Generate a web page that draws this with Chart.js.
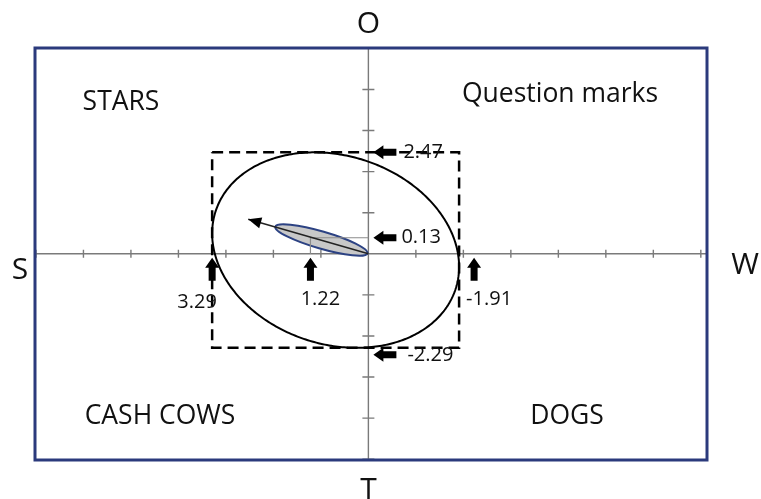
<!DOCTYPE html>
<html><head><meta charset="utf-8">
<script src="https://cdn.jsdelivr.net/npm/chart.js@4.4.1/dist/chart.umd.min.js"></script>
<style>html,body{margin:0;padding:0;background:#fff}#wrap{width:761px;height:499px;position:relative}</style>
</head><body><div id="wrap"><canvas id="c" width="761" height="499"></canvas></div>
<script>
// ---- data ----
const axisLetters = ['O', 'T', 'S', 'W'];            // top, bottom, left, right
const quadrantNames = ['STARS', 'Question marks', 'CASH COWS', 'DOGS'];
const xTicks = [-7, -6, -5, -4, -3, -2, -1, 1, 2, 3, 4, 5, 6, 7];
const yTicks = [-5, -4, -3, -2, -1, 1, 2, 3, 4, 5];
const rectX = [3.29, -1.91];                          // S side (left) / W side (right)
const rectY = [2.47, -2.29];                          // O side (top) / T side (bottom)
const rectLabels = ['3.29', '-1.91', '2.47', '-2.29'];
const meanPoint = [1.22, 0.39];                       // as drawn in the picture
const meanLabels = ['1.22', '0.13'];
const ellipseCorr = 0.17;                             // tilt of the big ellipse
const smallAxis = [[0.02, 0.01], [1.96, 0.66]];       // major axis of the small ellipse
const smallRatio = 0.18;
const vectorLine = [[0, 0], [2.53, 0.84]];

const rectPts = [
  {x: rectX[0], y: rectY[0]}, {x: rectX[1], y: rectY[0]},
  {x: rectX[1], y: rectY[1]}, {x: rectX[0], y: rectY[1]}, {x: rectX[0], y: rectY[0]}
];
const markerPts = [{x: meanPoint[0], y: 0}, {x: meanPoint[0], y: meanPoint[1]}, {x: 0, y: meanPoint[1]}];
const vectorPts = vectorLine.map(p => ({x: p[0], y: p[1]}));

const FONT = '"Open Sans", "Noto Sans", sans-serif';

function blockArrow(ctx, x, y, dir, len, headLen, headHalf, shaftHalf) {
  ctx.save();
  ctx.translate(x, y);
  if (dir === 'up') ctx.rotate(Math.PI / 2);
  ctx.beginPath();
  ctx.moveTo(0, 0);
  ctx.lineTo(headLen, -headHalf);
  ctx.lineTo(headLen, -shaftHalf);
  ctx.lineTo(len, -shaftHalf);
  ctx.lineTo(len, shaftHalf);
  ctx.lineTo(headLen, shaftHalf);
  ctx.lineTo(headLen, headHalf);
  ctx.closePath();
  ctx.fillStyle = '#000';
  ctx.fill();
  ctx.restore();
}

const diagram = {
  id: 'diagram',
  beforeDatasetsDraw(chart) {
    const {ctx, chartArea: a, scales: {x: xs, y: ys}} = chart;
    const x0 = xs.getPixelForValue(0), y0 = ys.getPixelForValue(0);
    ctx.save();
    ctx.strokeStyle = '#7a7a7a';
    ctx.lineWidth = 1.4;
    ctx.beginPath();
    ctx.moveTo(a.left, y0); ctx.lineTo(a.right, y0);
    ctx.moveTo(x0, a.top); ctx.lineTo(x0, a.bottom);
    xTicks.forEach(v => { const p = xs.getPixelForValue(v); ctx.moveTo(p, y0 - 4); ctx.lineTo(p, y0 + 4); });
    yTicks.forEach(v => { const p = ys.getPixelForValue(v); ctx.moveTo(x0 - 6, p); ctx.lineTo(x0 + 6, p); });
    ctx.stroke();
    const p0 = [xs.getPixelForValue(smallAxis[0][0]), ys.getPixelForValue(smallAxis[0][1])];
    const p1 = [xs.getPixelForValue(smallAxis[1][0]), ys.getPixelForValue(smallAxis[1][1])];
    const cx = (p0[0] + p1[0]) / 2, cy = (p0[1] + p1[1]) / 2;
    const ra = Math.hypot(p1[0] - p0[0], p1[1] - p0[1]) / 2;
    const ang = Math.atan2(p1[1] - p0[1], p1[0] - p0[0]);
    ctx.beginPath();
    ctx.ellipse(cx, cy, ra, ra * smallRatio, ang, 0, Math.PI * 2);
    ctx.fillStyle = '#c8c8c8';
    ctx.fill();
    ctx.strokeStyle = '#2c4283';
    ctx.lineWidth = 2;
    ctx.stroke();
    ctx.restore();
  },
  afterDatasetsDraw(chart) {
    const {ctx, chartArea: a, scales: {x: xs, y: ys}} = chart;
    const x0 = xs.getPixelForValue(0), y0 = ys.getPixelForValue(0);
    ctx.save();
    const cxD = (rectX[0] + rectX[1]) / 2, cyD = (rectY[0] + rectY[1]) / 2;
    const hx = Math.abs(rectX[0] - rectX[1]) / 2, hy = Math.abs(rectY[0] - rectY[1]) / 2;
    const d = Math.acos(ellipseCorr);
    ctx.beginPath();
    for (let i = 0; i <= 360; i++) {
      const t = i * Math.PI / 180;
      const X = xs.getPixelForValue(cxD + hx * Math.cos(t));
      const Y = ys.getPixelForValue(cyD + hy * Math.cos(t - d));
      if (i) ctx.lineTo(X, Y); else ctx.moveTo(X, Y);
    }
    ctx.closePath();
    ctx.strokeStyle = '#000';
    ctx.lineWidth = 2;
    ctx.stroke();
    const t0 = [xs.getPixelForValue(vectorLine[0][0]), ys.getPixelForValue(vectorLine[0][1])];
    const t1 = [xs.getPixelForValue(vectorLine[1][0]), ys.getPixelForValue(vectorLine[1][1])];
    const ang = Math.atan2(t1[1] - t0[1], t1[0] - t0[0]);
    ctx.save();
    ctx.translate(t1[0], t1[1]); ctx.rotate(ang);
    ctx.beginPath(); ctx.moveTo(0, 0); ctx.lineTo(-13, -5.5); ctx.lineTo(-13, 5.5); ctx.closePath();
    ctx.fillStyle = '#000'; ctx.fill();
    ctx.restore();
    ctx.strokeStyle = '#2b3a7c';
    ctx.lineWidth = 3;
    ctx.strokeRect(a.left, a.top, a.right - a.left, a.bottom - a.top);
    const ly = [ys.getPixelForValue(rectY[0]), ys.getPixelForValue(meanPoint[1]), ys.getPixelForValue(rectY[1]) + 7];
    ly.forEach(y => blockArrow(ctx, x0 + 5, y, 'left', 23, 10, 7, 3.5));
    const ux = [xs.getPixelForValue(rectX[0]), xs.getPixelForValue(meanPoint[0]), xs.getPixelForValue(rectX[1]) + 15];
    ux.forEach(x => blockArrow(ctx, x, y0 + 4, 'up', 23, 10, 7, 3.5));
    ctx.fillStyle = '#111';
    ctx.font = '20px ' + FONT;
    ctx.textBaseline = 'middle';
    ctx.textAlign = 'left';
    ctx.fillText(rectLabels[2], x0 + 35, ly[0]);
    ctx.fillText(meanLabels[1], x0 + 33, ly[1]);
    ctx.fillText(rectLabels[3], x0 + 39, ly[2]);
    ctx.textAlign = 'center';
    ctx.fillText(rectLabels[0], ux[0] - 15, y0 + 49);
    ctx.fillText(meanLabels[0], ux[1] + 10, y0 + 46);
    ctx.fillText(rectLabels[1], ux[2] + 15, y0 + 46);
    ctx.font = '26.5px ' + FONT;
    ctx.fillText(quadrantNames[0], 121, 102);
    ctx.fillText(quadrantNames[1], 560, 94);
    ctx.fillText(quadrantNames[2], 160, 416);
    ctx.fillText(quadrantNames[3], 567, 416);
    ctx.font = '30px ' + FONT;
    ctx.fillText(axisLetters[0], x0, 24);
    ctx.fillText(axisLetters[1], x0, 490);
    ctx.fillText(axisLetters[2], 20, 270);
    ctx.fillText(axisLetters[3], 745, 265);
    ctx.restore();
  }
};

new Chart(document.getElementById('c'), {
  type: 'scatter',
  data: {
    datasets: [
      {data: rectPts, showLine: true, borderColor: '#000', borderWidth: 2.5, borderDash: [11, 6], pointRadius: 0, fill: false, tension: 0},
      {data: vectorPts, showLine: true, borderColor: '#222', borderWidth: 1.5, pointRadius: 0, fill: false},
      {data: markerPts, showLine: true, borderColor: '#8c8c8c', borderWidth: 1.2, pointRadius: 0, fill: false}
    ]
  },
  options: {
    responsive: false,
    animation: false,
    devicePixelRatio: 1,
    layout: {padding: {left: 35, right: 54, top: 48, bottom: 39}},
    plugins: {legend: {display: false}, tooltip: {enabled: false}},
    scales: {
      x: {type: 'linear', reverse: true, min: -7.13, max: 7.02, display: false},
      y: {type: 'linear', min: -5.02, max: 5.01, display: false}
    }
  },
  plugins: [diagram]
});
</script>
</body></html>
